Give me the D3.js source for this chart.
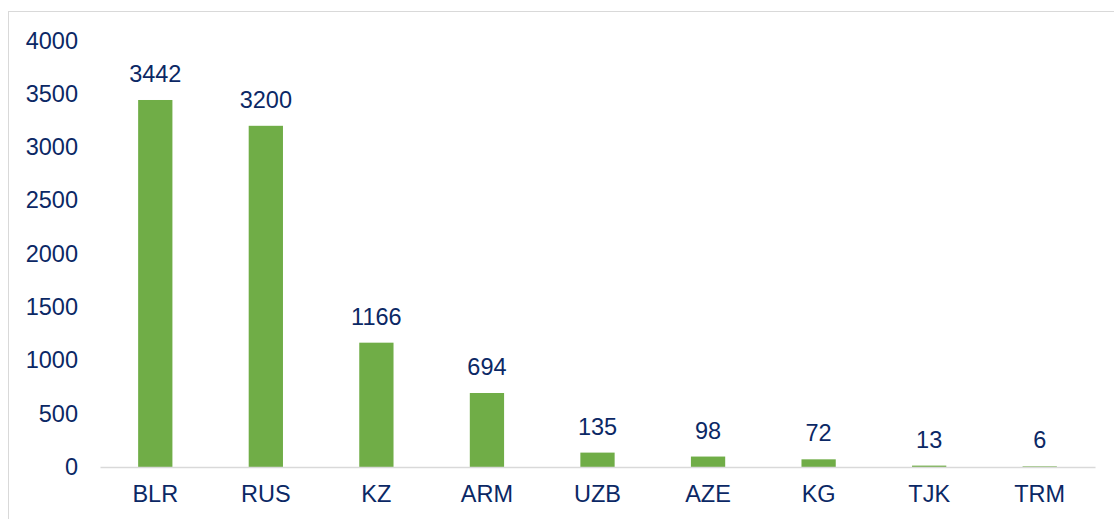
<!DOCTYPE html>
<html>
<head>
<meta charset="utf-8">
<script src="https://cdn.jsdelivr.net/npm/d3@7"></script>
<style>
  html, body { margin: 0; padding: 0; background: #ffffff; }
  svg { display: block; }
</style>
</head>
<body>
<svg id="chart" width="1114" height="519"></svg>
<script>
const categories = ["BLR", "RUS", "KZ", "ARM", "UZB", "AZE", "KG", "TJK", "TRM"];
const values = [3442, 3200, 1166, 694, 135, 98, 72, 13, 6];
const yTicks = [0, 500, 1000, 1500, 2000, 2500, 3000, 3500, 4000];

const svg = d3.select("#chart");
const W = 1114, H = 519;
const textColor = "#0b2865";
const barColor = "#70ad47";
const fontFamily = "Liberation Sans, Arial, sans-serif";
const fontSize = 23.5;

// frame
svg.append("rect")
  .attr("x", 8.5).attr("y", 11.5)
  .attr("width", W + 10).attr("height", H + 10)
  .attr("fill", "none").attr("stroke", "#d9d9d9").attr("stroke-width", 1);

const plot = { left: 100, right: 1095, top: 40.5, bottom: 467 };

const x = d3.scaleBand()
  .domain(categories)
  .range([plot.left, plot.right])
  .paddingInner(0.69)
  .paddingOuter(0.345);

const y = d3.scaleLinear()
  .domain([0, 4000])
  .range([plot.bottom, plot.top]);

// y axis labels
const yAxis = d3.axisLeft(y).tickValues(yTicks).tickSize(0).tickPadding(0).tickFormat(d3.format("d"));
const yg = svg.append("g").attr("transform", `translate(78,0)`).call(yAxis);
yg.select(".domain").remove();
yg.selectAll("text")
  .attr("fill", textColor)
  .attr("font-family", fontFamily)
  .attr("font-size", fontSize);

// bars
svg.append("g").selectAll("rect")
  .data(values)
  .join("rect")
  .attr("x", (d, i) => x(categories[i]))
  .attr("width", x.bandwidth())
  .attr("y", d => y(d))
  .attr("height", d => y(0) - y(d))
  .attr("fill", barColor);

// baseline
const xAxis = d3.axisBottom(x).tickSize(0).tickPadding(18);
const xg = svg.append("g").attr("transform", `translate(0,${plot.bottom})`).call(xAxis);
xg.select(".domain").attr("stroke", "#d9d9d9").attr("stroke-width", 1.5);
xg.selectAll("text")
  .attr("fill", textColor)
  .attr("font-family", fontFamily)
  .attr("font-size", fontSize)
  .attr("dy", "0.71em");

// value labels
svg.append("g").selectAll("text")
  .data(values)
  .join("text")
  .attr("x", (d, i) => x(categories[i]) + x.bandwidth() / 2)
  .attr("y", d => y(d) - 18)
  .attr("text-anchor", "middle")
  .attr("fill", textColor)
  .attr("font-family", fontFamily)
  .attr("font-size", fontSize)
  .text(d => d);
</script>
</body>
</html>
